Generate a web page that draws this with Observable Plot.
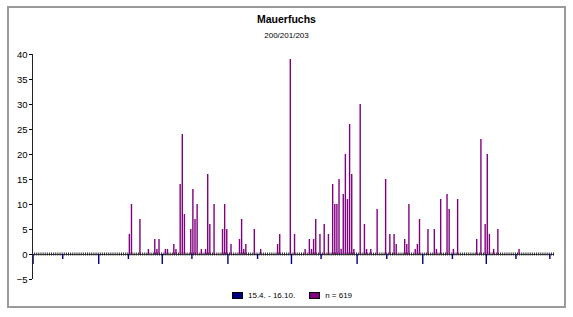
<!DOCTYPE html>
<html>
<head>
<meta charset="utf-8">
<script src="https://cdn.jsdelivr.net/npm/d3@7"></script>
<script src="https://cdn.jsdelivr.net/npm/@observablehq/plot@0.6"></script>
<style>
  html, body { margin: 0; padding: 0; background: #fff; }
  body { font-family: Arial, "Liberation Sans", sans-serif; color: #000; }
  #wrap { position: relative; width: 573px; height: 317px; overflow: hidden; }
  #frame { position: absolute; left: 7px; top: 6px; width: 555px; height: 298px; border: 2px solid #9a9a9a; }
  #title { position: absolute; left: 0; width: 573px; top: 13px; text-align: center; font-weight: bold; font-size: 10.5px; line-height: 13px; }
  #subtitle { position: absolute; left: 0; width: 573px; top: 30px; text-align: center; font-size: 8px; line-height: 11px; }
  #chart { position: absolute; left: 0; top: 42px; }
  #legend { position: absolute; top: 290px; left: 232px; font-size: 8px; line-height: 11px; display: flex; align-items: center; }
  .key { display: inline-block; width: 11px; height: 7px; border: 1px solid #000; box-sizing: border-box; margin-right: 5px; }
  .item { display: flex; align-items: center; margin-right: 14px; }
</style>
</head>
<body>
<div id="wrap">
  <div id="frame"></div>
  <div id="title">Mauerfuchs</div>
  <div id="subtitle">200/201/203</div>
  <div id="chart"></div>
  <div id="legend"></div>
</div>
<script>
// Days counted from 1 March (day 0) to 31 October (day 244); one extra slot for the axis end
const dayCount = 246;
// Series "15.4. - 16.10." (navy marker bars below the axis)
const markerDays   = [0, 14, 31, 45, 61, 75, 92, 106, 122, 136, 153, 167, 184, 198, 214, 228, 244];
const markerValues = [-2, -1, -2, -1, -2, -1, -2, -1, -2, -1, -2, -1, -2, -1, -2, -1, -1];
// Series "n = 619" (daily counts)
const countDays = [45,46,50,54,57,58,59,62,63,66,67,69,70,71,74,75,76,77,79,81,82,83,85,89,90,91,93,97,98,99,100,104,107,115,116,121,123,128,130,131,132,133,135,137,139,141,142,143,144,145,146,147,148,149,150,151,154,156,157,159,162,166,168,170,171,175,176,177,180,181,182,186,189,190,192,195,196,198,200,209,211,213,214,215,217,219,229];
const countValues = [4,10,7,1,3,1,3,1,1,2,1,14,24,8,5,13,7,10,1,1,16,6,10,5,10,5,2,3,7,1,2,5,1,2,4,39,4,1,3,1,3,7,4,6,4,14,10,10,15,1,12,20,11,26,16,1,30,6,1,1,9,15,4,4,2,3,2,10,1,2,7,5,5,1,11,12,9,1,11,3,23,6,20,4,1,5,1];
const yTicks = [-5, 0, 5, 10, 15, 20, 25, 30, 35, 40];
const seriesNames = ["15.4. - 16.10.", "n = 619"];
const seriesColors = ["#000080", "#800080"];

const markers = markerDays.map((d, i) => ({day: d, value: markerValues[i]}));
const counts = countDays.map((d, i) => ({day: d, value: countValues[i]}));
const slots = d3.range(0, dayCount + 1);

const chart = Plot.plot({
  width: 573,
  height: 245,
  marginLeft: 32,
  marginRight: 20,
  marginTop: 12,
  marginBottom: 8,
  x: {domain: [0, dayCount], axis: null},
  y: {domain: [-5, 40], ticks: yTicks, tickSize: 3, tickPadding: 2, label: null},
  style: {fontSize: "9.5px", fontFamily: "Arial, 'Liberation Sans', sans-serif", background: "transparent", color: "#000", overflow: "visible"},
  marks: [
    Plot.ruleY([0], {stroke: "#444", strokeWidth: 1}),
    Plot.ruleX(slots, {x: d => d, y1: -0.3, y2: 0.3, stroke: "#222", strokeWidth: 1}),
    Plot.ruleX(markers, {x: d => d.day + 0.27, y1: 0, y2: "value", stroke: seriesColors[0], strokeWidth: 1.4}),
    Plot.ruleX(counts, {x: d => d.day + 0.73, y1: 0, y2: "value", stroke: seriesColors[1], strokeWidth: 1.4}),
    Plot.ruleX([0], {stroke: "#222", strokeWidth: 1})
  ]
});
document.getElementById("chart").appendChild(chart);

const legend = document.getElementById("legend");
seriesNames.forEach((name, i) => {
  const item = document.createElement("div");
  item.className = "item";
  const key = document.createElement("span");
  key.className = "key";
  key.style.background = seriesColors[i];
  const label = document.createElement("span");
  label.textContent = name;
  item.appendChild(key);
  item.appendChild(label);
  legend.appendChild(item);
});
</script>
</body>
</html>
